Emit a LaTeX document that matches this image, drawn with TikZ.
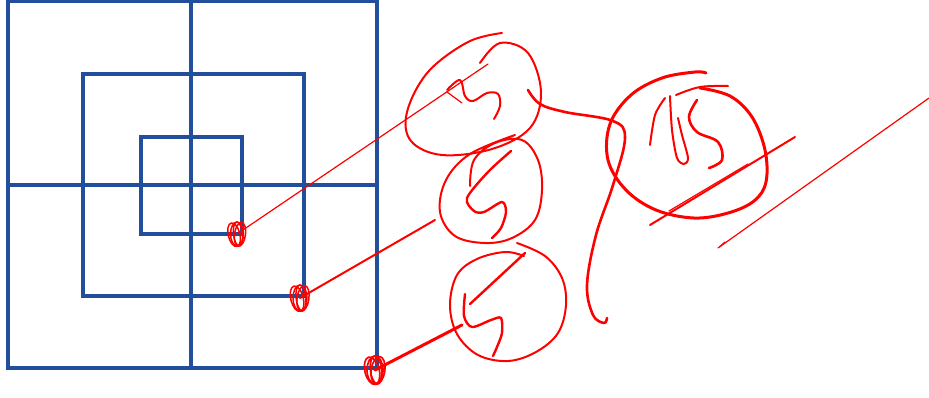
\documentclass[tikz,border=0pt]{standalone}
\usepackage{tikz}
\usetikzlibrary{calc}
\definecolor{gridblue}{RGB}{33,79,155}
\definecolor{inkred}{RGB}{255,0,0}

\begin{document}
\begin{tikzpicture}[
  x=1pt, y=-1pt,
  grid/.style={draw=gridblue, line width=3.8pt},
  ink/.style={draw=inkred, line width=2pt, line cap=round, line join=round},
  inkthin/.style={ink, line width=1.2pt},
  inkthick/.style={ink, line width=3pt},
]
\useasboundingbox (0,0) rectangle (929,397);

% blue squares and cross
\draw[grid] (8,1) rectangle (377,368);
\draw[grid] (83,74) rectangle (304,296);
\draw[grid] (141,137) rectangle (242,234);
\draw[grid] (191,0) -- (191,368);
\draw[grid] (8,185) -- (377,185);

% small scribbles at the corners
\coordinate (s1) at (237,234);
\coordinate (s2) at (300,298);
\coordinate (s3) at (375,370);
\foreach \a/\dx/\r in {0/0/1, 14/-3/0.9, -8/3/0.85, 6/1/0.7} {
  \draw[ink, line width=1.5pt, rotate around={\a:(s1)}] ($(s1)+(\dx,0)$) ellipse [x radius=6.5*\r, y radius=12];
  \draw[ink, line width=1.5pt, rotate around={\a:(s2)}] ($(s2)+(\dx,0)$) ellipse [x radius=7*\r, y radius=13];
  \draw[ink, line width=1.7pt, rotate around={\a:(s3)}] ($(s3)+(\dx,0)$) ellipse [x radius=8*\r, y radius=14];
}

% connectors to the circles
\coordinate (c1in) at (488,64);
\coordinate (c2in) at (435,220);
\coordinate (c3in) at (462,325);
\draw[inkthin] (s1) -- (c1in);
\draw[ink] (s2) -- (c2in);
\draw[inkthick] (s3) -- (c3in);

% circle 1
\draw[ink] plot[smooth, tension=0.6] coordinates {(480,63) (500,43) (528,53) (541,92) (530,128) (492,149) (442,155) (411,141) (407,112) (428,72) (468,42) (502,33)};
\draw[ink] plot[smooth, tension=0.6] coordinates {(447,90) (460,80) (465,96) (473,101) (487,93) (498,94) (500,106) (494,119)};
\draw[inkthin] (447,92) -- (462,103);

% circle 2
\draw[ink] plot[smooth, tension=0.6] coordinates {(470,186) (474,160) (495,143) (522,140) (538,160) (542,190) (535,220) (512,238) (485,243) (455,236) (440,212) (446,180) (470,154) (515,135)};
\draw[ink, line width=2.4pt] plot[smooth, tension=0.5] coordinates {(511,151) (488,172) (467,198) (474,211) (484,212) (502,202) (506,212) (501,228) (492,238)};

% circle 3
\draw[ink] plot[smooth, tension=0.6] coordinates {(517,243) (545,256) (562,278) (566,305) (558,333) (536,352) (508,361) (478,355) (457,334) (450,305) (457,275) (477,259) (505,252) (524,256)};
\draw[ink, line width=2.4pt] (525,253) -- (470,304);
\draw[ink, line width=2.4pt] plot[smooth, tension=0.5] coordinates {(465,294) (464,316) (472,327) (491,320) (501,318) (502,333) (497,347) (493,356)};

% circle 1 to the long stroke
\draw[ink, line width=2.6pt] plot[smooth, tension=0.6] coordinates {(528,90) (540,104) (565,112) (613,121) (625,138) (613,185) (596,235) (587,285) (593,315) (604,323) (607,318)};

% circle 4
\draw[inkthick] plot[smooth, tension=0.6] coordinates {(700,88) (730,96) (752,117) (765,150) (766,182) (754,201) (728,213) (694,218) (656,210) (626,190) (608,160) (610,124) (631,95) (662,78) (695,72) (706,73)};
\draw[ink] plot[smooth, tension=0.6] coordinates {(676,95) (700,87) (728,86)};
\draw[ink] plot[smooth, tension=0.5] coordinates {(650,145) (655,115) (665,98)};
\draw[ink] plot[smooth, tension=0.5] coordinates {(670,96) (672,130) (677,158) (684,164) (688,158) (682,135) (678,118)};
\draw[ink, line width=2.6pt] plot[smooth, tension=0.6] coordinates {(697,100) (689,117) (697,132) (718,142) (722,160) (709,168)};

% strokes across circle 4
\coordinate (d1a) at (650,225);
\coordinate (d1b) at (795,137);
\draw[ink] (d1a) -- (d1b);
\draw[inkthin] (669,211) -- (748,164);
\coordinate (d2a) at (718,248);
\coordinate (d2b) at (929,98);
\draw[inkthin] (725,242) -- (d2a) -- (d2b);

\end{tikzpicture}
\end{document}
